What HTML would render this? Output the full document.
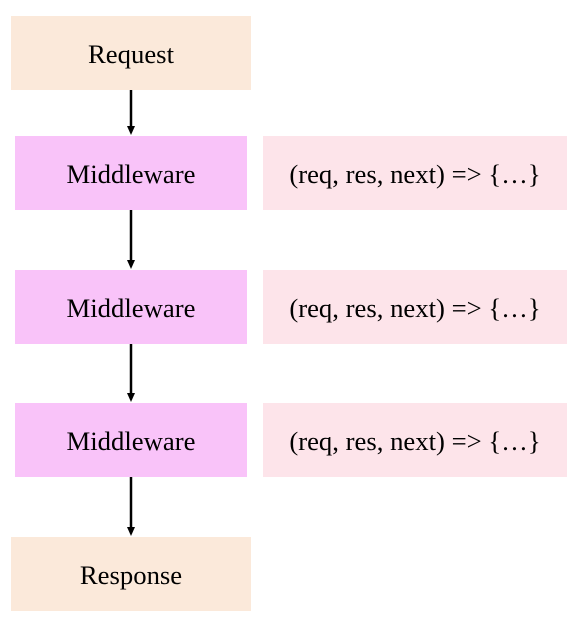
<!DOCTYPE html>
<html><head><style>
body{margin:0;width:575px;height:620px;background:#fff;position:relative;font-family:"Liberation Serif",serif;font-size:26.7px;color:#000}
.b{position:absolute;display:flex;align-items:center;justify-content:center;box-sizing:border-box;padding-top:3px}
.r{background:#fbe9da}
.m{background:#f9c3f9}
.f{background:#fde4ea}
svg{position:absolute;left:0;top:0}
</style></head><body>
<div class="b r" style="left:11px;top:16px;width:240px;height:74px">Request</div>
<div class="b m" style="left:15px;top:136px;width:232px;height:74px">Middleware</div>
<div class="b f" style="left:263px;top:136px;width:304px;height:74px">(req, res, next) =&gt; {…}</div>
<div class="b m" style="left:15px;top:270px;width:232px;height:74px">Middleware</div>
<div class="b f" style="left:263px;top:270px;width:304px;height:74px">(req, res, next) =&gt; {…}</div>
<div class="b m" style="left:15px;top:403px;width:232px;height:74px">Middleware</div>
<div class="b f" style="left:263px;top:403px;width:304px;height:74px">(req, res, next) =&gt; {…}</div>
<div class="b r" style="left:11px;top:537px;width:240px;height:74px">Response</div>
<svg width="575" height="620">
<g stroke="#000" stroke-width="2.5" fill="#000">
<line x1="131" y1="90" x2="131" y2="128"/><polygon points="127,126 135,126 131,135" stroke="none"/>
<line x1="131" y1="210" x2="131" y2="262"/><polygon points="127,260 135,260 131,269" stroke="none"/>
<line x1="131" y1="344" x2="131" y2="395"/><polygon points="127,393 135,393 131,402" stroke="none"/>
<line x1="131" y1="477" x2="131" y2="529"/><polygon points="127,527 135,527 131,536" stroke="none"/>
</g></svg>
</body></html>
